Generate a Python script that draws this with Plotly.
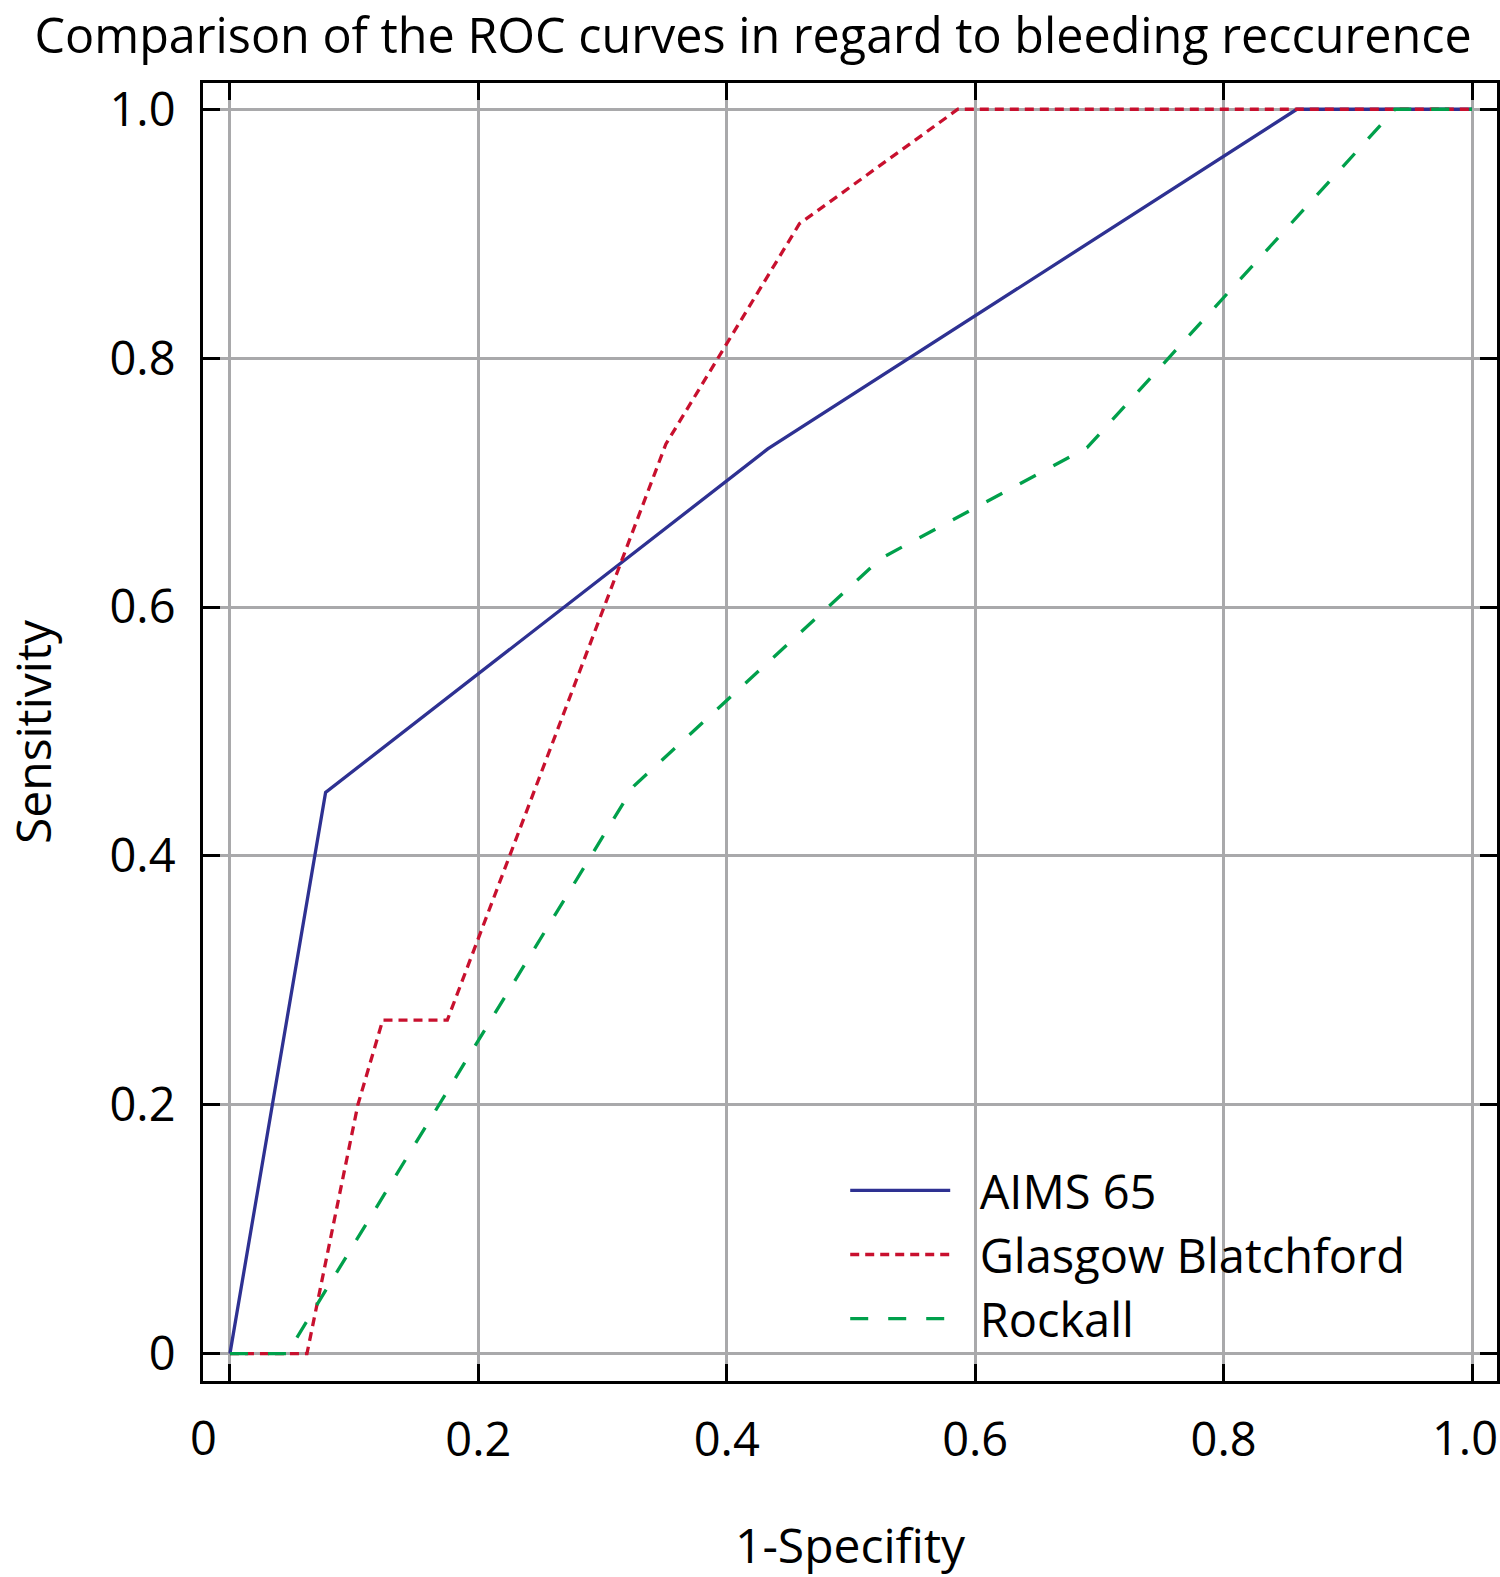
import plotly.graph_objects as go

# ---- data ----
aims_fpr = [0.0, 0.077, 0.433, 0.859, 1.0]
aims_tpr = [0.0, 0.451, 0.727, 1.0, 1.0]

gbs_fpr = [0.0, 0.062, 0.103, 0.123, 0.175, 0.351, 0.4585, 0.586, 1.0]
gbs_tpr = [0.0, 0.0, 0.2, 0.268, 0.268, 0.731, 0.908, 1.0, 1.0]

rock_fpr = [0.0, 0.046, 0.325, 0.524, 0.69, 0.938, 1.0]
rock_tpr = [0.0, 0.0, 0.456, 0.639, 0.728, 1.0, 1.0]

series_names = ["AIMS 65", "Glasgow Blatchford", "Rockall"]
tick_vals = [0, 0.2, 0.4, 0.6, 0.8, 1.0]
x_tick_text = ["", "0.2", "0.4", "0.6", "0.8", ""]   # "0" and "1.0" are placed as edge labels below
y_tick_text = ["0", "0.2", "0.4", "0.6", "0.8", "1.0"]
x_edge_labels = [(0.0, "0"), (1.0, "1.0")]

FONT = "Open Sans"
BLUE = "#2E3192"
RED = "#C8102E"
GREEN = "#00A04B"
PAD = "\u00a0\u00a0"  # gap between legend sample line and its label

fig = go.Figure()
fig.add_trace(go.Scatter(x=aims_fpr, y=aims_tpr, mode="lines", name=PAD + series_names[0],
                         line=dict(color=BLUE, width=3.3, dash="solid")))
fig.add_trace(go.Scatter(x=gbs_fpr, y=gbs_tpr, mode="lines", name=PAD + series_names[1],
                         line=dict(color=RED, width=3.3, dash="9px,6px")))
fig.add_trace(go.Scatter(x=rock_fpr, y=rock_tpr, mode="lines", name=PAD + series_names[2],
                         line=dict(color=GREEN, width=3.3, dash="18px,20px")))

axis_common = dict(
    showgrid=True, gridcolor="#A9A9AB", gridwidth=3,
    zeroline=False,
    showline=True, linecolor="black", linewidth=3, mirror="allticks",
    ticks="inside", ticklen=17, tickwidth=3, tickcolor="black",
    tickfont=dict(family=FONT, size=47, color="black"),
    tickvals=tick_vals,
    automargin=False,
)

fig.update_xaxes(range=[-0.0217, 1.0201], ticktext=x_tick_text,
                 ticklabelstandoff=16,
                 title=dict(text="1-Specifity", font=dict(family=FONT, size=48, color="black"),
                            standoff=68),
                 **axis_common)
fig.update_yaxes(range=[-0.022, 1.0211], ticktext=y_tick_text,
                 ticklabelstandoff=15,
                 title=dict(text="Sensitivity", font=dict(family=FONT, size=48, color="black"),
                            standoff=81),
                 **axis_common)

# "0" sits at the left frame edge in the reference; "1.0" hugs the right edge
fig.add_annotation(text=x_edge_labels[0][1], xref="x domain", yref="y domain", x=0, y=-0.0435,
                   xanchor="center", yanchor="middle", showarrow=False,
                   font=dict(family=FONT, size=47, color="black"))
fig.add_annotation(text=x_edge_labels[1][1], xref="x", yref="y domain", x=x_edge_labels[1][0],
                   y=-0.0435, xanchor="center", yanchor="middle", showarrow=False, xshift=-7,
                   font=dict(family=FONT, size=47, color="black"))

fig.update_layout(
    width=1500, height=1577,
    margin=dict(l=203, r=3.3, t=82.7, b=196.3, autoexpand=False),
    paper_bgcolor="white", plot_bgcolor="white",
    title=dict(text="Comparison of the ROC curves in regard to bleeding reccurence",
               x=0.023, xanchor="left", xref="container",
               y=0.9772, yanchor="middle", yref="container",
               font=dict(family=FONT, size=48.5, color="black")),
    showlegend=True,
    legend=dict(x=0.4963, y=0.019, xanchor="left", yanchor="bottom",
                bgcolor="rgba(0,0,0,0)", borderwidth=0,
                font=dict(family=FONT, size=47, color="black"),
                itemwidth=100, tracegroupgap=0),
)

fig.write_html("out.html", config={"displayModeBar": False},
               post_script="document.body.style.margin='0px';document.body.style.overflow='hidden';")
